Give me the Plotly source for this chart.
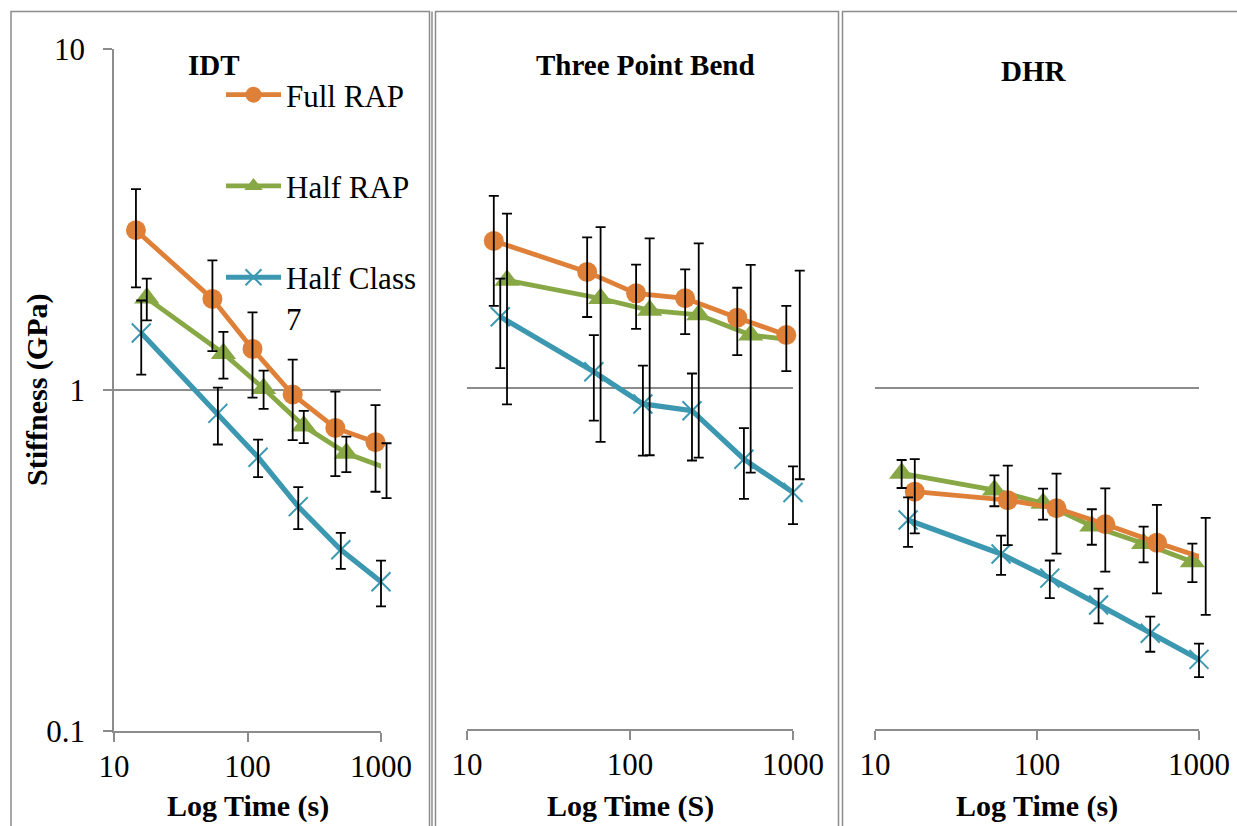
import plotly.graph_objects as go

W, H = 1237, 826
SERIF = "Liberation Serif"
GRAY = "#8C8C8C"

# ---------------- data ----------------
panel_titles = ["IDT", "Three Point Bend", "DHR"]
x_titles = ["Log Time (s)", "Log Time (S)", "Log Time (s)"]
y_title = "Stiffness (GPa)"
series_names = ["Full RAP", "Half RAP", "Half Class 7"]
legend_labels = ["Full RAP", "Half RAP", "Half Class<br>7"]
x_tick_vals = [10, 100, 1000]
x_tick_text = ["10", "100", "1000"]
y_tick_vals = [0.1, 1, 10]
y_tick_text = ["0.1", "1", "10"]

# IDT
idt_time_full = [14.6, 54.6, 109, 218, 455, 910]
idt_full = [2.94, 1.85, 1.32, 0.97, 0.774, 0.703]
idt_full_err = [0.94, 0.55, 0.37, 0.257, 0.215, 0.20]
idt_time_half = [17.6, 66, 132, 264, 550, 1100]
idt_half = [1.86, 1.28, 1.01, 0.784, 0.652, 0.59]
idt_half_err = [0.26, 0.20, 0.13, 0.085, 0.078, 0.108]
idt_time_c7 = [16, 60, 120, 240, 500, 1000]
idt_c7 = [1.47, 0.854, 0.635, 0.455, 0.34, 0.274]
idt_c7_err = [0.36, 0.162, 0.08, 0.064, 0.041, 0.042]

# Three Point Bend
tpb_time_full = [14.6, 54.6, 109, 218, 455, 910]
tpb_full = [2.70, 2.19, 1.895, 1.833, 1.608, 1.43]
tpb_full_err = [0.96, 0.575, 0.405, 0.395, 0.36, 0.31]
tpb_time_half = [17.6, 66, 132, 264, 550, 1100]
tpb_half = [2.07, 1.83, 1.69, 1.64, 1.43, 1.375]
tpb_half_err = [1.175, 1.135, 1.055, 1.015, 0.865, 0.835]
tpb_time_c7 = [16, 60, 120, 240, 500, 1000]
tpb_c7 = [1.618, 1.116, 0.898, 0.858, 0.618, 0.494]
tpb_c7_err = [0.475, 0.314, 0.265, 0.245, 0.145, 0.095]

# DHR
dhr_time_full = [17.6, 66, 132, 264, 550, 1100]
dhr_full = [0.4965, 0.469, 0.444, 0.3985, 0.352, 0.316]
dhr_full_err = [0.122, 0.123, 0.117, 0.109, 0.102, 0.10]
dhr_time_half = [14.6, 54.6, 109, 218, 455, 910]
dhr_half = [0.562, 0.502, 0.459, 0.394, 0.350, 0.3095]
dhr_half_err = [0.053, 0.052, 0.048, 0.047, 0.042, 0.04]
dhr_time_c7 = [16, 60, 120, 240, 500, 1000]
dhr_c7 = [0.41, 0.326, 0.277, 0.231, 0.191, 0.16]
dhr_c7_err = [0.068, 0.043, 0.035, 0.027, 0.0225, 0.018]

# ---------------- styling ----------------
COLORS = ["#DF8039", "#88A846", "#3C98B1"]
MARKERS = [
    dict(symbol="circle", size=20),
    dict(symbol="triangle-up", size=22),
    dict(symbol="x-thin-open", size=19),
]
LINE_W = [4.8, 4.8, 5.2]

panels = [
    [(idt_time_full, idt_full, idt_full_err),
     (idt_time_half, idt_half, idt_half_err),
     (idt_time_c7, idt_c7, idt_c7_err)],
    [(tpb_time_full, tpb_full, tpb_full_err),
     (tpb_time_half, tpb_half, tpb_half_err),
     (tpb_time_c7, tpb_c7, tpb_c7_err)],
    [(dhr_time_full, dhr_full, dhr_full_err),
     (dhr_time_half, dhr_half, dhr_half_err),
     (dhr_time_c7, dhr_c7, dhr_c7_err)],
]

# plot-area pixel boxes (left, right, top, bottom)
boxes = [(114, 381, 49, 731), (467, 793, 47, 729), (875, 1199, 47, 729)]
EXT = 30  # extra pixels on the right where error bars may still be drawn

fig = go.Figure()
draw_order = [1, 0, 2]
for p, series in enumerate(panels):
    xa = "x" if p == 0 else f"x{p+1}"
    ya = "y" if p == 0 else f"y{p+1}"
    xe, ye = f"x{p+4}", f"y{p+4}"
    # error bars on an invisible twin subplot (wider, same scale), behind the lines
    for s in draw_order:
        t, v, e = series[s]
        fig.add_trace(go.Scatter(
            x=t, y=v, mode="markers", xaxis=xe, yaxis=ye,
            marker=dict(size=2, opacity=0),
            error_y=dict(type="data", array=e, symmetric=True, color="black",
                         thickness=1.8, width=5),
            showlegend=False, hoverinfo="skip"))
    for s in draw_order:
        t, v, e = series[s]
        mk = dict(MARKERS[s])
        mk["color"] = COLORS[s]
        if s == 2:
            mk["line"] = dict(width=2, color=COLORS[s])
        fig.add_trace(go.Scatter(
            x=t, y=v, mode="lines+markers", xaxis=xa, yaxis=ya,
            name=legend_labels[s], legendgroup=series_names[s], legendrank=s + 1,
            line=dict(color=COLORS[s], width=LINE_W[s]),
            marker=mk, cliponaxis=False, showlegend=(p == 0)))

tick_font = dict(family=SERIF, size=31, color="black")
layout_axes = {}
for p, (l, r, t, b) in enumerate(boxes):
    xk = "xaxis" if p == 0 else f"xaxis{p+1}"
    yk = "yaxis" if p == 0 else f"yaxis{p+1}"
    layout_axes[xk] = dict(
        type="log", range=[1, 3], domain=[l / W, r / W],
        anchor="y" if p == 0 else f"y{p+1}",
        tickvals=x_tick_vals, ticktext=x_tick_text, tickfont=tick_font,
        showline=True, linecolor=GRAY, linewidth=1.5,
        ticks="outside", ticklen=9, tickwidth=1.5, tickcolor=GRAY,
        showgrid=False, zeroline=False, ticklabelstandoff=-2,
        automargin=False, fixedrange=True)
    ydict = dict(
        type="log", range=[-1, 1], domain=[1 - b / H, 1 - t / H],
        anchor="x" if p == 0 else f"x{p+1}",
        tickvals=y_tick_vals, ticktext=y_tick_text, tickfont=tick_font,
        showgrid=True, gridcolor=GRAY, gridwidth=1.5, zeroline=False,
        automargin=False, fixedrange=True)
    if p == 0:
        ydict.update(showline=True, linecolor=GRAY, linewidth=1.5,
                     ticks="outside", ticklen=9, tickwidth=1.5, tickcolor=GRAY,
                     showticklabels=True, ticklabelstandoff=12)
    else:
        ydict.update(showline=False, ticks="", showticklabels=False)
    layout_axes[yk] = ydict
    # twin (error-bar) subplot with identical scale, slightly wider to the right
    dec_px = (r - l) / 2.0
    layout_axes[f"xaxis{p+4}"] = dict(
        type="log", range=[1, 3 + EXT / dec_px], domain=[l / W, (r + EXT) / W],
        anchor=f"y{p+4}", visible=False, automargin=False, fixedrange=True)
    layout_axes[f"yaxis{p+4}"] = dict(
        type="log", range=[-1, 1], domain=[1 - b / H, 1 - t / H],
        anchor=f"x{p+4}", visible=False, automargin=False, fixedrange=True)

annotations = []
title_pos = [(214, 65), (645, 65), (1034, 71)]
for (cx, cy), txt in zip(title_pos, panel_titles):
    annotations.append(dict(text=f"<b>{txt}</b>", x=cx / W, y=1 - cy / H,
                            xref="paper", yref="paper", showarrow=False,
                            xanchor="center", yanchor="middle",
                            font=dict(family=SERIF, size=29, color="black")))
for (l, r, t, b), txt in zip(boxes, x_titles):
    annotations.append(dict(text=f"<b>{txt}</b>", x=(l + r) / 2 / W, y=1 - 806 / H,
                            xref="paper", yref="paper", showarrow=False,
                            xanchor="center", yanchor="middle",
                            font=dict(family=SERIF, size=30, color="black")))
annotations.append(dict(text=f"<b>{y_title}</b>", x=37 / W, y=1 - 390 / H,
                        xref="paper", yref="paper", showarrow=False, textangle=-90,
                        xanchor="center", yanchor="middle",
                        font=dict(family=SERIF, size=30, color="black")))

border = dict(color=GRAY, width=1.5)
shapes = [
    dict(type="rect", xref="paper", yref="paper", x0=11 / W, x1=429.5 / W,
         y0=-0.05, y1=1 - 11.5 / H, line=border),
    dict(type="line", xref="paper", yref="paper", x0=432 / W, x1=432 / W,
         y0=-0.05, y1=1 - 11.5 / H, line=border),
    dict(type="rect", xref="paper", yref="paper", x0=435.5 / W, x1=838.5 / W,
         y0=-0.05, y1=1 - 11.5 / H, line=border),
    dict(type="rect", xref="paper", yref="paper", x0=842.5 / W, x1=1.05,
         y0=-0.05, y1=1 - 11.5 / H, line=border),
]

fig.update_layout(
    width=W, height=H, autosize=False,
    margin=dict(l=0, r=0, t=0, b=0, pad=0, autoexpand=False),
    paper_bgcolor="white", plot_bgcolor="rgba(0,0,0,0)",
    font=dict(family=SERIF, color="black"),
    showlegend=True,
    legend=dict(x=221 / W, y=1 - 68 / H, xanchor="left", yanchor="top",
                bgcolor="rgba(0,0,0,0)", borderwidth=0,
                font=dict(family=SERIF, size=31, color="black"),
                itemwidth=55, tracegroupgap=48, traceorder="grouped",
                valign="top"),
    annotations=annotations, shapes=shapes,
    **layout_axes,
)

fig.write_html("out.html", config={"displayModeBar": False},
               post_script="document.body.style.margin='0';")
